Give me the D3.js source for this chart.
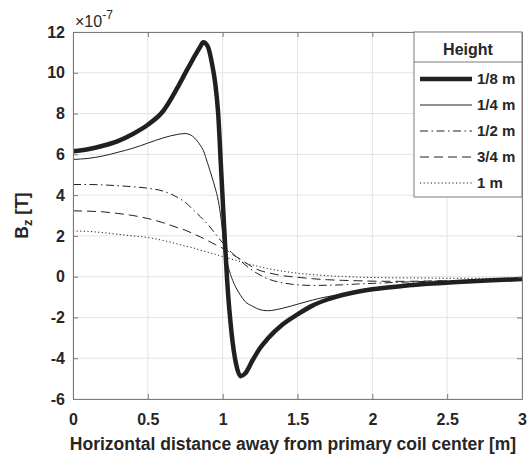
<!DOCTYPE html>
<html>
<head>
<meta charset="utf-8">
<script src="https://cdn.jsdelivr.net/npm/d3@7"></script>
<style>
  body { margin: 0; background: #fff; }
  text { font-family: "Liberation Sans", Arial, sans-serif; font-weight: bold; fill: #262626; }
</style>
</head>
<body>
<div id="chart"></div>
<script>
// horizontal positions [m]
var xs = [0, 0.1, 0.2, 0.3, 0.4, 0.5, 0.6, 0.7, 0.75, 0.8, 0.85, 0.87, 0.9, 0.93, 0.95, 0.97, 0.99,
          1.01, 1.03, 1.06, 1.09, 1.12, 1.15, 1.2, 1.25, 1.3, 1.4, 1.5, 1.6, 1.7, 1.8, 1.9, 2.0,
          2.2, 2.4, 2.6, 2.8, 3.0];

// Bz in units of 1e-7 T, one array per height
var bz_1_8 = [6.15, 6.25, 6.42, 6.65, 7.0, 7.45, 8.1, 9.3, 9.98, 10.65, 11.28, 11.5, 11.3, 10.4, 9.5, 8.0, 5.2,
              2.4, -0.2, -2.8, -4.3, -4.88, -4.75, -4.1, -3.5, -3.05, -2.35, -1.85, -1.42, -1.12, -0.9, -0.74, -0.62,
              -0.46, -0.34, -0.25, -0.18, -0.12];
var bz_1_4 = [5.75, 5.8, 5.92, 6.1, 6.3, 6.55, 6.8, 6.98, 7.02, 6.88, 6.45, 6.2, 5.55, 4.85, 4.35, 3.75, 2.8,
              1.4, 0.7, -0.05, -0.55, -0.92, -1.22, -1.45, -1.62, -1.67, -1.55, -1.35, -1.15, -0.98, -0.86, -0.72, -0.6,
              -0.45, -0.33, -0.25, -0.18, -0.12];
var bz_1_2 = [4.52, 4.52, 4.5, 4.46, 4.41, 4.34, 4.2, 3.88, 3.65, 3.3, 2.95, 2.8, 2.57, 2.3, 2.12, 1.93, 1.75,
              1.58, 1.4, 1.18, 0.98, 0.78, 0.58, 0.3, 0.08, -0.1, -0.3, -0.4, -0.43, -0.42, -0.4, -0.36, -0.33,
              -0.27, -0.22, -0.18, -0.15, -0.12];
var bz_3_4 = [3.23, 3.21, 3.18, 3.1, 3.0, 2.85, 2.65, 2.4, 2.28, 2.12, 1.95, 1.88, 1.77, 1.65, 1.58, 1.5, 1.43,
              1.36, 1.28, 1.12, 0.98, 0.85, 0.7, 0.47, 0.3, 0.2, 0.05, -0.03, -0.1, -0.15, -0.18, -0.2, -0.22,
              -0.23, -0.21, -0.19, -0.16, -0.14];
var bz_1 = [2.24, 2.22, 2.16, 2.08, 2.0, 1.92, 1.78, 1.6, 1.5, 1.42, 1.3, 1.26, 1.2, 1.14, 1.1, 1.05, 1.0,
            0.96, 0.92, 0.86, 0.8, 0.73, 0.67, 0.57, 0.48, 0.4, 0.27, 0.17, 0.1, 0.05, 0.01, -0.02, -0.04,
            -0.06, -0.07, -0.08, -0.08, -0.08];

var heights = ["1/8 m", "1/4 m", "1/2 m", "3/4 m", "1 m"];
var xTicks = [0, 0.5, 1, 1.5, 2, 2.5, 3];
var yTicks = [-6, -4, -2, 0, 2, 4, 6, 8, 10, 12];

var series = [bz_1_8, bz_1_4, bz_1_2, bz_3_4, bz_1];
var widths = [4.5, 1, 1, 1, 1];
var dashes = [null, null, "8,3.5,1.5,3.5", "9,5", "1.2,2.4"];
var lineColor = "#231f20";
var axisColor = "#7a7a7a";

// set the dimensions and margins of the graph
var margin = {top: 32, right: 9, bottom: 56, left: 73},
    width = 531 - margin.left - margin.right,
    height = 455 - margin.top - margin.bottom;

var svg = d3.select("#chart")
  .append("svg")
  .attr("width", 531)
  .attr("height", 455)
  .append("g")
  .attr("transform", "translate(" + margin.left + "," + margin.top + ")");

var x = d3.scaleLinear().domain([0, 3]).range([0, width]);
var y = d3.scaleLinear().domain([-6, 12]).range([height, 0]);

// grid
svg.append("g").selectAll("line").data(xTicks).enter().append("line")
  .attr("x1", function(d) { return x(d); }).attr("x2", function(d) { return x(d); })
  .attr("y1", 0).attr("y2", height)
  .style("stroke", "#e3e3e3").style("stroke-width", 1);
svg.append("g").selectAll("line").data(yTicks).enter().append("line")
  .attr("y1", function(d) { return y(d); }).attr("y2", function(d) { return y(d); })
  .attr("x1", 0).attr("x2", width)
  .style("stroke", "#e3e3e3").style("stroke-width", 1);

// clip
svg.append("clipPath").attr("id", "clip")
  .append("rect").attr("width", width).attr("height", height);

// lines
var line = d3.line()
  .x(function(d, i) { return x(xs[i]); })
  .y(function(d) { return y(d); })
  .curve(d3.curveMonotoneX);

svg.append("g").attr("clip-path", "url(#clip)")
  .selectAll("path").data(series).enter().append("path")
  .attr("d", line)
  .style("fill", "none")
  .style("stroke", lineColor)
  .style("stroke-width", function(d, i) { return widths[i]; })
  .style("stroke-dasharray", function(d, i) { return dashes[i]; })
  .style("stroke-linejoin", "round");

// axes (ticks inside, box all round)
var fmt = function(d) { return d; };
var gx = svg.append("g").attr("transform", "translate(0," + height + ")")
  .call(d3.axisBottom(x).tickValues(xTicks).tickFormat(fmt).tickSizeInner(-5).tickSizeOuter(0).tickPadding(15));
var gy = svg.append("g")
  .call(d3.axisLeft(y).tickValues(yTicks).tickFormat(fmt).tickSizeInner(-5).tickSizeOuter(0).tickPadding(8));
var gt = svg.append("g")
  .call(d3.axisTop(x).tickValues(xTicks).tickFormat("").tickSizeInner(-5).tickSizeOuter(0));
var gr = svg.append("g").attr("transform", "translate(" + width + ",0)")
  .call(d3.axisRight(y).tickValues(yTicks).tickFormat("").tickSizeInner(-5).tickSizeOuter(0));

[gx, gy, gt, gr].forEach(function(g) {
  g.selectAll("path, line").style("stroke", axisColor);
  g.selectAll("text").style("font-size", "16px").style("fill", "#262626")
    .style("font-family", "'Liberation Sans', Arial, sans-serif").style("font-weight", "bold");
});

// exponent label
var expo = svg.append("text").attr("x", 2).attr("y", -5)
  .style("font-size", "16px").style("font-weight", "normal");
expo.append("tspan").text("\u00d710");
expo.append("tspan").attr("dy", -8).style("font-size", "12px").text("-7");

// axis titles
svg.append("text")
  .attr("x", 293 - margin.left).attr("y", height + 51)
  .style("text-anchor", "middle").style("font-size", "17.5px")
  .text("Horizontal distance away from primary coil center [m]");

var yl = svg.append("text")
  .attr("transform", "translate(" + (-45) + "," + (height / 2) + ") rotate(-90)")
  .style("text-anchor", "middle").style("font-size", "17.5px");
yl.append("tspan").text("B");
yl.append("tspan").attr("dy", 4).style("font-size", "13px").text("z");
yl.append("tspan").attr("dy", -4).text(" [T]");

// legend
var lx = 414 - margin.left, ly = 0, lw = width - lx, lh = 165;
var legend = svg.append("g").attr("transform", "translate(" + lx + "," + ly + ")");
legend.append("rect").attr("width", lw).attr("height", lh)
  .style("fill", "#fff").style("stroke", axisColor).style("stroke-width", 1);
legend.append("line").attr("x1", 0).attr("x2", lw).attr("y1", 30).attr("y2", 30)
  .style("stroke", axisColor);
legend.append("text").attr("x", lw / 2).attr("y", 23)
  .style("text-anchor", "middle").style("font-size", "16px").text("Height");

var entries = legend.selectAll("g.entry").data(heights).enter().append("g")
  .attr("class", "entry")
  .attr("transform", function(d, i) { return "translate(0," + (47 + i * 26) + ")"; });
entries.append("line")
  .attr("x1", 6).attr("x2", 58).attr("y1", 0).attr("y2", 0)
  .style("stroke", lineColor)
  .style("stroke-width", function(d, i) { return widths[i]; })
  .style("stroke-dasharray", function(d, i) { return dashes[i]; });
entries.append("text")
  .attr("x", 63).attr("y", 0).attr("dy", "0.35em")
  .style("font-size", "15px")
  .text(function(d) { return d; });
</script>
</body>
</html>
